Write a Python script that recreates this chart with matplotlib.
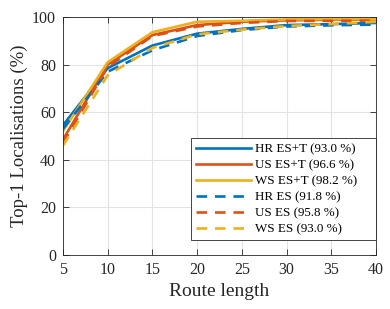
import matplotlib.pyplot as plt
import numpy as np

plt.rcParams['font.family'] = ['Liberation Serif', 'DejaVu Serif']
plt.rcParams['mathtext.fontset'] = 'stix'

# route lengths
route = [5, 10, 15, 20, 25, 30, 35, 40]

# top-1 localisation rates (%)
hr_est = [54.5, 78.5, 88.0, 93.0, 95.0, 96.6, 97.0, 97.5]
us_est = [48.5, 80.0, 92.4, 96.6, 98.0, 98.6, 98.8, 99.0]
ws_est = [52.0, 81.0, 93.6, 98.0, 98.4, 99.0, 99.1, 99.2]
hr_es = [53.0, 77.0, 86.0, 92.0, 94.5, 96.0, 96.5, 96.8]
us_es = [47.0, 79.0, 92.0, 96.0, 97.5, 98.3, 98.4, 98.5]
ws_es = [46.0, 75.5, 87.0, 92.7, 94.7, 96.2, 97.0, 98.0]

labels = ['HR ES+T (93.0 %)', 'US ES+T (96.6 %)', 'WS ES+T (98.2 %)',
          'HR ES (91.8 %)', 'US ES (95.8 %)', 'WS ES (93.0 %)']

blue = '#0072BD'
red = '#D95319'
yellow = '#EDB120'

fig = plt.figure(figsize=(3.9, 3.09), dpi=100)
ax = fig.add_axes([0.1615, 0.175, 0.8025, 0.77])

lw = 1.9
ax.plot(route, hr_est, color=blue, lw=lw, label=labels[0])
ax.plot(route, us_est, color=red, lw=lw, label=labels[1])
ax.plot(route, ws_est, color=yellow, lw=lw, label=labels[2])
ax.plot(route, hr_es, color=blue, lw=lw, ls=(0, (4, 3)), label=labels[3])
ax.plot(route, us_es, color=red, lw=lw, ls=(0, (4, 3)), label=labels[4])
ax.plot(route, ws_es, color=yellow, lw=lw, ls=(0, (4, 3)), label=labels[5])

ax.set_xlim(5, 40)
ax.set_ylim(0, 100)
ax.set_xticks(np.arange(5, 41, 5))
ax.set_yticks(np.arange(0, 101, 20))
ax.grid(True, color='#e3e3e3', lw=0.8)
ax.set_axisbelow(True)
ax.tick_params(direction='in', length=4, width=0.6, labelsize=11.5,
               top=True, right=True, colors='#262626', pad=5)
for s in ax.spines.values():
    s.set_color('#262626')
    s.set_linewidth(0.6)

ax.set_xlabel('Route length', fontsize=14, color='#262626')
ax.set_ylabel('Top-1 Localisations (%)', fontsize=13.5, color='#262626',
              labelpad=3)

# MATLAB-style legend: extra room on the right, flush with the axis edge
leg = ax.legend(loc='lower left', bbox_to_anchor=(0.41, 0.063, 0.59, 0.4),
                mode='expand', fontsize=9.4, fancybox=False,
                framealpha=1, edgecolor='#262626', borderpad=0.35,
                labelspacing=0.3, handlelength=4.2, handletextpad=0.35,
                borderaxespad=0.0)
leg.get_frame().set_linewidth(0.6)

fig.savefig('out.png', dpi=100)
